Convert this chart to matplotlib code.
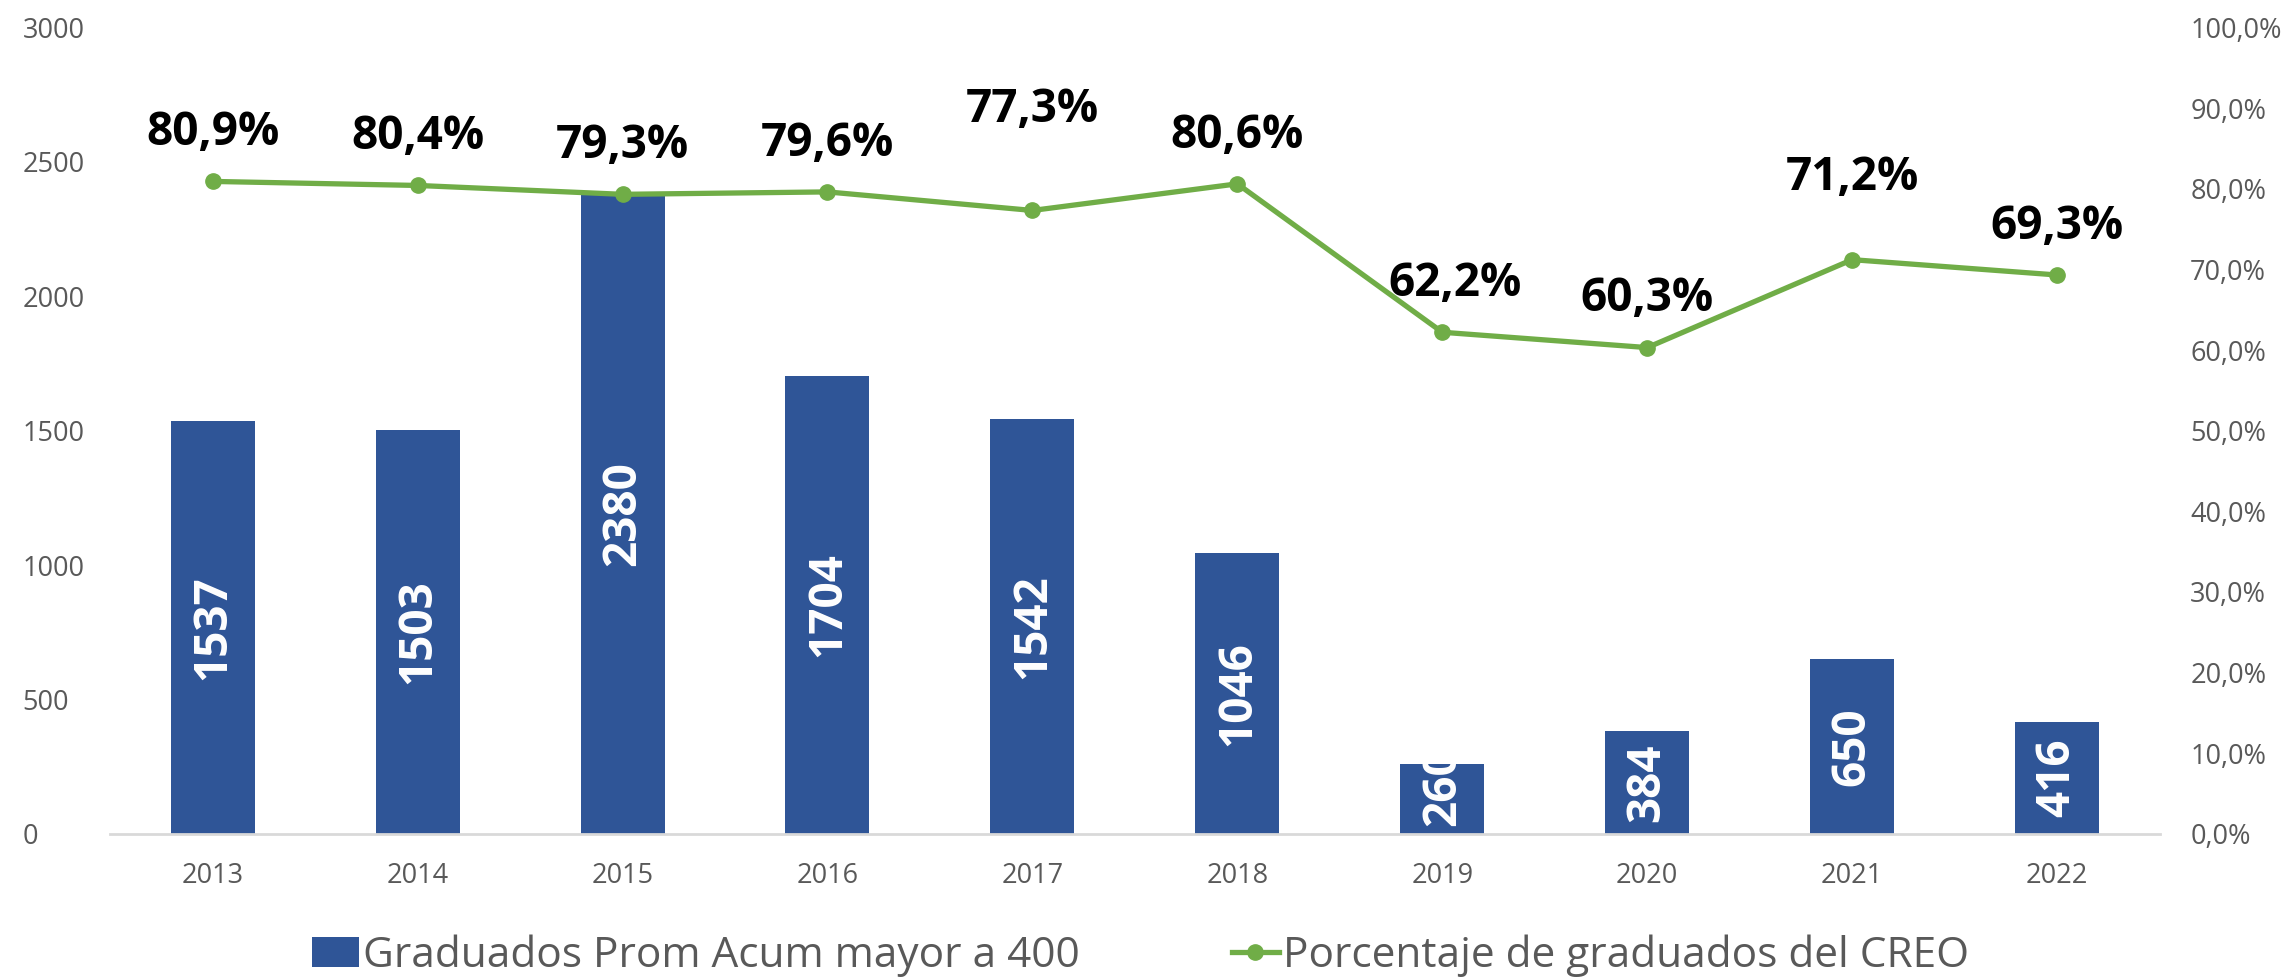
import numpy as np
import matplotlib.pyplot as plt
from matplotlib.ticker import FuncFormatter, MultipleLocator

years = ["2013", "2014", "2015", "2016", "2017", "2018", "2019", "2020", "2021", "2022"]
graduados = [1537, 1503, 2380, 1704, 1542, 1046, 260, 384, 650, 416]
porcentaje = [80.9, 80.4, 79.3, 79.6, 77.3, 80.6, 62.2, 60.3, 71.2, 69.3]

# label nudges (points) as placed in the original
label_dy = [35, 35, 35, 35, 73, 35, 35, 35, 59, 35]
label_dx = [0, 0, 0, 0, 0, 0, 9, 0, 0, 0]

BLUE = "#2F5597"
GREEN = "#70AD47"
GREY = "#595959"
BAR_FS = 33

plt.rcParams["font.family"] = ["Open Sans", "DejaVu Sans"]

fig = plt.figure(figsize=(22.95, 9.77), dpi=100)
ax = fig.add_axes([0.048, 0.1464, 0.893, 0.8256])
x = np.arange(len(years))

bars = ax.bar(x, graduados, width=0.41, color=BLUE, zorder=2, label="Graduados Prom Acum mayor a 400")

ax.set_xlim(-0.5, len(years) - 0.5)
ax.set_ylim(0, 3000)

# bar labels: centred, or pushed up from the base when the bar is too short
ax_h_px = ax.get_position().height * fig.get_figheight() * fig.dpi
for xi, v in zip(x, graduados):
    txt = str(v)
    bar_px = v / 3000 * ax_h_px
    text_px = len(txt) * 0.6 * BAR_FS * fig.dpi / 72
    if text_px + 20 < bar_px:
        ax.text(xi, v / 2, txt, rotation=90, ha="center", va="center",
                color="white", fontsize=BAR_FS, fontweight="bold", zorder=3)
    else:
        ax.annotate(txt, (xi, 0), xytext=(0, 6), textcoords="offset points",
                    rotation=90, ha="center", va="bottom",
                    color="white", fontsize=BAR_FS, fontweight="bold", zorder=3)

ax.yaxis.set_major_locator(MultipleLocator(500))
ax.set_xticks(x)
ax.set_xticklabels(years)
for s in ["top", "right", "left"]:
    ax.spines[s].set_visible(False)
ax.spines["bottom"].set_color("#D9D9D9")
ax.spines["bottom"].set_linewidth(2)
ax.tick_params(axis="both", length=0, labelsize=19.5, labelcolor=GREY)
ax.tick_params(axis="x", pad=20)
for lbl in ax.get_yticklabels():
    lbl.set_horizontalalignment("left")
ax.yaxis.set_tick_params(pad=63)

ax2 = ax.twinx()
line, = ax2.plot(x, porcentaje, color=GREEN, lw=3.8, marker="o", markersize=11,
                 label="Porcentaje de graduados del CREO", zorder=4)
ax2.set_ylim(0, 100)
ax2.yaxis.set_major_locator(MultipleLocator(10))
ax2.yaxis.set_major_formatter(FuncFormatter(lambda v, p: f"{v:.1f}%".replace(".", ",")))
for s in ax2.spines.values():
    s.set_visible(False)
ax2.tick_params(axis="y", length=0, labelsize=19.5, labelcolor=GREY, pad=22)

for xi, v, dx, dy in zip(x, porcentaje, label_dx, label_dy):
    ax2.annotate(f"{v:.1f}%".replace(".", ","), (xi, v), xytext=(dx, dy),
                 textcoords="offset points", ha="center", va="center",
                 fontsize=33, fontweight="bold", color="black")

fig.legend(handles=[bars, line], loc="center", bbox_to_anchor=(0.497, 0.022), ncol=2,
           frameon=False, fontsize=30.5, labelcolor=GREY, handlelength=1.1,
           handletextpad=0.1, columnspacing=3.6, borderaxespad=0)

fig.savefig("out.png", dpi=100, facecolor="white")
